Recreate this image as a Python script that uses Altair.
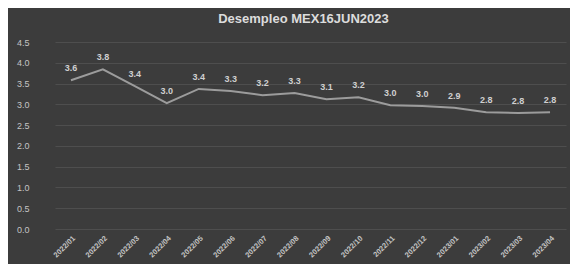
import altair as alt
import pandas as pd

months = ["2022/01", "2022/02", "2022/03", "2022/04", "2022/05", "2022/06",
          "2022/07", "2022/08", "2022/09", "2022/10", "2022/11", "2022/12",
          "2023/01", "2023/02", "2023/03", "2023/04"]
rate = [3.58, 3.84, 3.44, 3.03, 3.37, 3.32, 3.22, 3.27, 3.12, 3.17,
        2.98, 2.96, 2.92, 2.81, 2.79, 2.81]
y_ticks = [0.0, 0.5, 1.0, 1.5, 2.0, 2.5, 3.0, 3.5, 4.0, 4.5]

df = pd.DataFrame({"mes": months, "tasa": rate})

BG = "#3c3c3c"
TXT = "#c4c4c4"

x = alt.X("mes:O", sort=months, title=None,
          scale=alt.Scale(type="point", range=[18, 529]),
          axis=alt.Axis(labelAngle=-45, labelFontSize=7.5, labelColor=TXT,
                        labelPadding=5, ticks=False, domain=False, grid=False,
                        labelFont="Liberation Sans", labelFontWeight="bold"))
y = alt.Y("tasa:Q", title=None,
          scale=alt.Scale(domain=[0, 4.5], nice=False),
          axis=alt.Axis(values=y_ticks, format=".1f", labelFontSize=9,
                        labelColor=TXT, labelPadding=8, ticks=False, domain=False,
                        gridColor="#4e4e4e", gridWidth=1, labelFont="Liberation Sans"))

base = alt.Chart(df)
line = base.mark_line(color="#9c9c9c", strokeWidth=2).encode(x=x, y=y)
labels = base.mark_text(baseline="bottom", dy=-7, fontSize=9, color="#d0d0d0",
                        font="Liberation Sans", fontWeight="bold").encode(
    x=x, y=y, text=alt.Text("tasa:Q", format=".1f"))

chart = (line + labels).properties(
    width=533, height=187,
    title=alt.TitleParams("Desempleo MEX16JUN2023", fontSize=13, fontWeight="bold",
                          color="#dcdcdc", font="Liberation Sans", anchor="middle",
                          offset=12),
    background=BG,
    padding={"left": 29, "top": 34, "right": 0, "bottom": 35},
    autosize=alt.AutoSizeParams(type="none"),
).configure_view(stroke=None, fill=BG)

chart.save("out.html", embed_options={"renderer": "svg", "actions": False})
